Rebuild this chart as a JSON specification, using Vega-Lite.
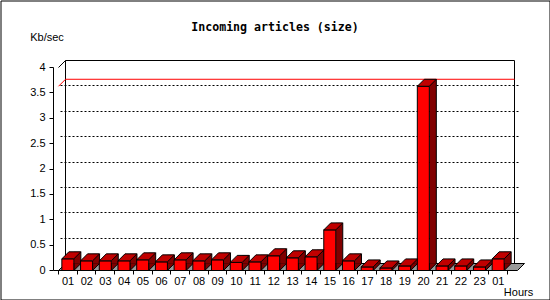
{
  "$schema": "https://vega.github.io/schema/vega-lite/v6.json",
  "width": 549,
  "height": 299,
  "autosize": {"type": "none"},
  "padding": 0.5,
  "background": "white",
  "title": {
    "text": "Incoming articles (size)",
    "font": "DejaVu Sans Mono",
    "fontWeight": "bold",
    "fontSize": 11.6,
    "color": "black",
    "anchor": "middle",
    "frame": "group",
    "baseline": "alphabetic",
    "offset": -42
  },
  "data": {
    "values": [
      {"slot": 1, "hour": "01", "kbps": 0.23},
      {"slot": 2, "hour": "02", "kbps": 0.19},
      {"slot": 3, "hour": "03", "kbps": 0.19},
      {"slot": 4, "hour": "04", "kbps": 0.19},
      {"slot": 5, "hour": "05", "kbps": 0.21},
      {"slot": 6, "hour": "06", "kbps": 0.17},
      {"slot": 7, "hour": "07", "kbps": 0.21},
      {"slot": 8, "hour": "08", "kbps": 0.19},
      {"slot": 9, "hour": "09", "kbps": 0.21},
      {"slot": 10, "hour": "10", "kbps": 0.16},
      {"slot": 11, "hour": "11", "kbps": 0.17},
      {"slot": 12, "hour": "12", "kbps": 0.29},
      {"slot": 13, "hour": "13", "kbps": 0.25},
      {"slot": 14, "hour": "14", "kbps": 0.27},
      {"slot": 15, "hour": "15", "kbps": 0.8},
      {"slot": 16, "hour": "16", "kbps": 0.19},
      {"slot": 17, "hour": "17", "kbps": 0.07},
      {"slot": 18, "hour": "18", "kbps": 0.05},
      {"slot": 19, "hour": "19", "kbps": 0.09},
      {"slot": 20, "hour": "20", "kbps": 3.63},
      {"slot": 21, "hour": "21", "kbps": 0.09},
      {"slot": 22, "hour": "22", "kbps": 0.09},
      {"slot": 23, "hour": "23", "kbps": 0.07},
      {"slot": 24, "hour": "01", "kbps": 0.23}
    ]
  },
  "resolve": {"scale": {"y": "independent"}, "axis": {"y": "independent"}},
  "layer": [
    {
      "transform": [{"aggregate": [{"op": "max", "field": "kbps", "as": "peak"}]}],
      "mark": {"type": "rect", "fillOpacity": 0, "stroke": "black", "strokeWidth": 1, "xOffset": 7, "x2Offset": 7, "yOffset": 7, "y2Offset": 7},
      "encoding": {
        "x": {
          "datum": 0.5,
          "type": "quantitative",
          "scale": {"domain": [0.5, 24.5], "range": [53, 512], "nice": false, "zero": false},
          "axis": {
            "orient": "bottom",
            "offset": -29,
            "translate": 0,
            "tickCount": 40,
            "values": [0.5, 1.5, 2.5, 3.5, 4.5, 5.5, 6.5, 7.5, 8.5, 9.5, 10.5, 11.5, 12.5, 13.5, 14.5, 15.5, 16.5, 17.5, 18.5, 19.5, 20.5, 21.5, 22.5, 23.5, 24.5],
            "labelExpr": "datum.value == 24.5 ? '' : datum.value == 23.5 ? '01' : (datum.value < 9 ? '0' : '') + (datum.value + 0.5)",
            "labelOffset": 9.56,
            "labelFont": "Liberation Sans",
            "labelFontSize": 11,
            "labelColor": "black",
            "labelBaseline": "top",
            "labelAlign": "center",
            "labelPadding": 1,
            "labelFlush": false,
            "labelOverlap": false,
            "tickSize": 4,
            "tickColor": "black",
            "domainColor": "black",
            "grid": false,
            "title": "Hours",
            "titleFont": "Liberation Sans",
            "titleFontSize": 11,
            "titleFontWeight": "normal",
            "titleColor": "black",
            "titleX": 518,
            "titleY": 25.5,
            "titleAlign": "center",
            "titleBaseline": "alphabetic",
            "zindex": 1
          }
        },
        "x2": {"datum": 24.5},
        "y": {
          "datum": 4,
          "type": "quantitative",
          "scale": {"domain": [0, 4], "range": [256, 53], "nice": false, "zero": false},
          "axis": {
            "orient": "left",
            "translate": 7,
            "tickCount": 40,
            "values": [0.5, 1, 1.5, 2, 2.5, 3, 3.5],
            "grid": true,
            "gridColor": "black",
            "gridDash": [2, 2],
            "gridWidth": 1,
            "gridOpacity": 1,
            "domain": false,
            "ticks": false,
            "labels": false,
            "title": null
          }
        },
        "y2": {"datum": 0}
      }
    },
    {
      "layer": [
        {
          "transform": [{"aggregate": [{"op": "max", "field": "kbps", "as": "peak"}]}],
          "mark": {"type": "point", "shape": "M0,0L459,0L466,-7L7,-7Z", "size": 4, "filled": true, "fill": "#999999", "stroke": "black", "strokeWidth": 1, "opacity": 1},
          "encoding": {
            "x": {"datum": 0.5, "type": "quantitative"},
            "y": {
              "datum": 0,
              "type": "quantitative",
              "scale": {"domain": [0, 4], "range": [270, 67], "nice": false, "zero": false},
              "axis": {
                "orient": "left",
                "offset": -53,
                "translate": 0,
                "tickCount": 40,
                "values": [0, 0.5, 1, 1.5, 2, 2.5, 3, 3.5, 4],
                "format": "~g",
                "tickSize": 4,
                "tickColor": "black",
                "domainColor": "black",
                "labelPadding": 4,
                "labelFont": "Liberation Sans",
                "labelFontSize": 11,
                "labelColor": "black",
                "labelFlush": false,
                "labelOverlap": false,
                "grid": false,
                "title": "Kb/sec",
                "titleFont": "Liberation Sans",
                "titleFontSize": 11,
                "titleFontWeight": "normal",
                "titleColor": "black",
                "titleAngle": 0,
                "titleX": -6.5,
                "titleY": 40,
                "titleAlign": "center",
                "titleBaseline": "alphabetic",
                "zindex": 1
              }
            }
          }
        },
        {
          "transform": [{"aggregate": [{"op": "max", "field": "kbps", "as": "peak"}]}],
          "mark": {"type": "rule", "color": "red", "strokeWidth": 1, "xOffset": 7, "x2Offset": 7, "yOffset": -7},
          "encoding": {
            "x": {"datum": 0.5, "type": "quantitative"},
            "x2": {"datum": 24.5},
            "y": {"field": "peak", "type": "quantitative"}
          }
        },
        {
          "transform": [{"aggregate": [{"op": "max", "field": "kbps", "as": "peak"}]}],
          "mark": {"type": "rule", "color": "red", "strokeWidth": 1, "x2Offset": 7, "y2Offset": -7},
          "encoding": {
            "x": {"datum": 0.5, "type": "quantitative"},
            "x2": {"datum": 0.5},
            "y": {"field": "peak", "type": "quantitative"},
            "y2": {"field": "peak"}
          }
        },
        {
          "transform": [{"aggregate": [{"op": "max", "field": "kbps", "as": "peak"}]}],
          "mark": {"type": "rule", "color": "black", "strokeWidth": 1, "x2Offset": 7, "y2Offset": -7},
          "encoding": {
            "x": {"datum": 0.5, "type": "quantitative"},
            "x2": {"datum": 0.5},
            "y": {"datum": 4, "type": "quantitative"},
            "y2": {"datum": 4}
          }
        },
        {
          "mark": {"type": "bar", "orient": "vertical", "width": 7, "xOffset": 9.5, "yOffset": -7, "y2Offset": -7, "fill": "#800000", "strokeWidth": 0},
          "encoding": {
            "x": {"field": "slot", "type": "quantitative"},
            "y": {"field": "kbps", "type": "quantitative"},
            "y2": {"datum": 0}
          }
        },
        {
          "mark": {"type": "rule", "color": "black", "strokeWidth": 1, "xOffset": 13, "yOffset": -7, "y2Offset": -7},
          "encoding": {
            "x": {"field": "slot", "type": "quantitative"},
            "y": {"field": "kbps", "type": "quantitative"},
            "y2": {"datum": 0}
          }
        },
        {
          "mark": {"type": "point", "shape": "M6,-7L6,0L13,-7", "size": 4, "filled": true, "fill": "#800000", "stroke": "black", "strokeWidth": 1, "opacity": 1},
          "encoding": {
            "x": {"field": "slot", "type": "quantitative"},
            "y": {"datum": 0, "type": "quantitative"}
          }
        },
        {
          "mark": {"type": "bar", "orient": "vertical", "width": 12, "fill": "#FF0000", "stroke": "black", "strokeWidth": 1},
          "encoding": {
            "x": {"field": "slot", "type": "quantitative"},
            "y": {"field": "kbps", "type": "quantitative"},
            "y2": {"datum": 0}
          }
        },
        {
          "mark": {"type": "point", "shape": "M-6,0L6,0L13,-7L1,-7Z", "size": 4, "filled": true, "fill": "#C00000", "stroke": "black", "strokeWidth": 1, "opacity": 1},
          "encoding": {
            "x": {"field": "slot", "type": "quantitative"},
            "y": {"field": "kbps", "type": "quantitative"}
          }
        }
      ]
    }
  ],
  "config": {
    "view": {"stroke": "black", "strokeWidth": 1, "fill": "white"},
    "axis": {"translate": 0, "labelOverlap": false}
  }
}
